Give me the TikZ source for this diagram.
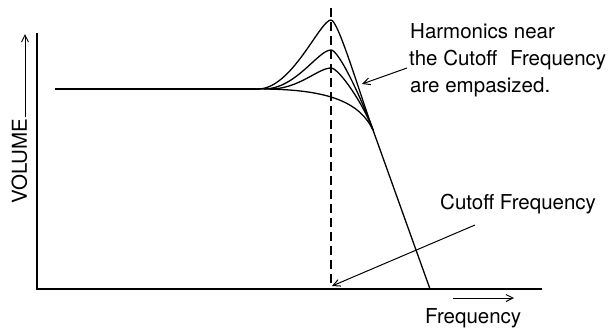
\documentclass[tikz,border=0pt]{standalone}
\usepackage{fontspec}
\setmainfont{TeX Gyre Heros}
\usetikzlibrary{arrows.meta}
\begin{document}
\begin{tikzpicture}[x=1pt,y=-1pt,
  lbl/.style={inner sep=0pt,anchor=base west,font=\fontsize{20.5}{24}\selectfont},
  axis/.style={line width=1.7pt},
  curve/.style={line width=1.3pt,line join=round},
  ptr/.style={line width=1pt,-{Straight Barb[length=7pt,width=7pt,line width=1pt]}},
  dashline/.style={line width=1.2pt,dash pattern=on 9pt off 5pt}]
\useasboundingbox (0,0) rectangle (615,327);
% axes
\coordinate (origin) at (37,289);
\coordinate (ytop) at (37,33);
\coordinate (xend) at (542,289);
\draw[axis] (ytop) -- (origin) -- (xend);
% dashed cutoff line
\coordinate (dtop) at (331,8);
\coordinate (dbot) at (331,289);
\draw[dashline] (dtop) -- (dbot);
% response curves
\coordinate (flat) at (55,89);
\coordinate (merge) at (373,130);
\coordinate (tail) at (430,289);
\draw[curve] (flat) -- (260,89);
\draw[curve] (258,89) .. controls (292,89) and (320,20) .. (331,20)
  .. controls (338,20) and (358.6,90) .. (merge);
\draw[curve] (264,89) .. controls (296,89) and (318,50) .. (331,50)
  .. controls (339,50) and (362,100) .. (merge);
\draw[curve] (270,89) .. controls (299,89) and (318,68) .. (331,68)
  .. controls (339,68) and (364,105) .. (merge);
\draw[curve] (260,89) .. controls (330,89) and (360,103) .. (merge);
\draw[curve] (merge) -- (tail);
% labels
\node[lbl] (h1) at (410,38) {Harmonics near};
\node[lbl] (h2) at (409,65) {the Cutoff\hspace{0.35em} Frequency};
\node[lbl] (h3) at (410,92) {are empasized.};
\coordinate (htip) at (362,84);
\draw[ptr] ([xshift=-2pt,yshift=-3pt]h2.base west) -- (htip);
\node[lbl] (cf) at (440,209) {Cutoff Frequency};
\coordinate (ctail) at (475,225);
\coordinate (ctip) at (332,286);
\draw[ptr] (ctail) -- (ctip);
\node[lbl] (fq) at (425,323) {Frequency};
\coordinate (fa) at (453,298);
\coordinate (fb) at (514,298);
\draw[ptr] (fa) -- (fb);
\node[lbl,rotate=90] (vol) at (27,204) {VOLUME};
\coordinate (va) at (25,117);
\coordinate (vb) at (25,34);
\draw[ptr] (va) -- (vb);
\end{tikzpicture}
\end{document}
